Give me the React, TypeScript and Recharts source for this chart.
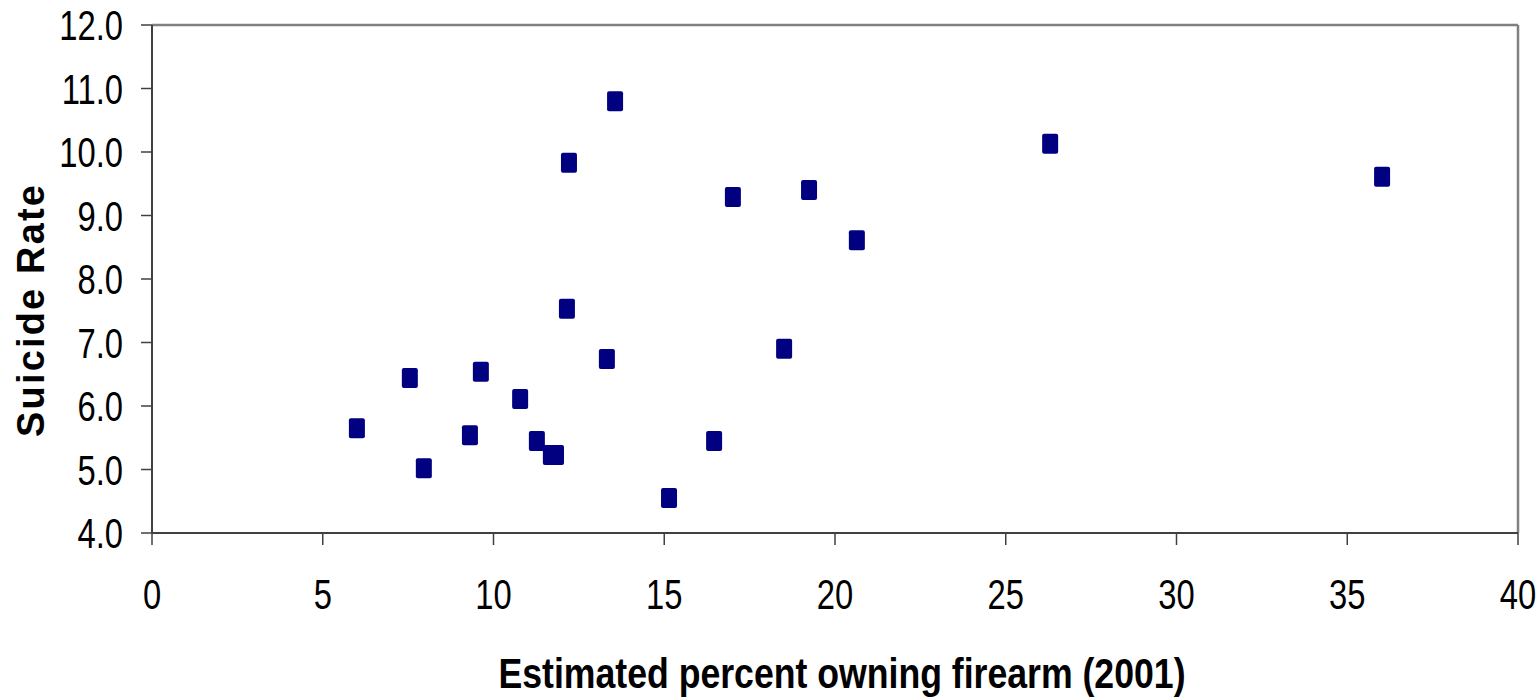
import {
  ScatterChart,
  Scatter,
  XAxis,
  YAxis,
  ReferenceLine,
  Label,
} from "recharts";

// percent owning firearm (2001) vs suicide rate
const ownership = [
  6.0, 7.55, 7.96, 9.31, 9.63, 10.78, 11.27, 11.68, 11.83, 12.15, 12.21,
  13.32, 13.56, 15.14, 16.46, 17.01, 18.51, 19.24, 20.64, 26.3, 36.02,
];
const suicideRate = [
  5.65, 6.44, 5.02, 5.54, 6.54, 6.11, 5.45, 5.23, 5.23, 7.53, 9.83, 6.74,
  10.8, 4.55, 5.45, 9.29, 6.9, 9.4, 8.61, 10.13, 9.61,
];
const xTicks = [0, 5, 10, 15, 20, 25, 30, 35, 40];
const yTicks = [4, 5, 6, 7, 8, 9, 10, 11, 12];

const points = ownership.map((x, i) => ({ x, y: suicideRate[i] }));

const FONT = "'Liberation Sans', Arial, sans-serif";

const XTick = (props: any) => {
  const { x, y, payload } = props;
  return (
    <text
      transform={`translate(${x},${y + 62}) scale(0.78,1)`}
      textAnchor="middle"
      fontFamily={FONT}
      fontSize={42}
      fill="#000"
    >
      {payload.value}
    </text>
  );
};

const YTick = (props: any) => {
  const { x, y, payload } = props;
  return (
    <text
      transform={`translate(${x - 16},${y + 15}) scale(0.78,1)`}
      textAnchor="end"
      fontFamily={FONT}
      fontSize={42}
      fill="#000"
    >
      {Number(payload.value).toFixed(1)}
    </text>
  );
};

const Marker = (props: any) => {
  const { cx, cy } = props;
  return (
    <rect x={cx - 8} y={cy - 10} width={16} height={20} rx={2} fill="#000080" />
  );
};

export default function App() {
  return (
    <div style={{ position: "absolute", left: 0, top: 0 }}>
      <ScatterChart
        width={1539}
        height={698}
        margin={{ top: 25, right: 21, left: 0, bottom: 0 }}
      >
        <XAxis
          type="number"
          dataKey="x"
          domain={[0, 40]}
          ticks={xTicks}
          interval={0}
          tickSize={12}
          height={165}
          axisLine={{ stroke: "#404040", strokeWidth: 2 }}
          tickLine={{ stroke: "#404040", strokeWidth: 1.5 }}
          tick={<XTick />}
        >
          <Label
            content={() => (
              <text
                x={842}
                y={688}
                textAnchor="middle"
                fontFamily={FONT}
                fontWeight="bold"
                fontSize={42}
                textLength={687}
                lengthAdjust="spacingAndGlyphs"
                fill="#000"
              >
                Estimated percent owning firearm (2001)
              </text>
            )}
          />
        </XAxis>
        <YAxis
          type="number"
          dataKey="y"
          domain={[4, 12]}
          ticks={yTicks}
          interval={0}
          tickSize={11}
          width={152}
          axisLine={{ stroke: "#404040", strokeWidth: 2 }}
          tickLine={{ stroke: "#404040", strokeWidth: 1.5 }}
          tick={<YTick />}
        >
          <Label
            content={() => (
              <text
                transform="translate(44,311) rotate(-90)"
                textAnchor="middle"
                fontFamily={FONT}
                fontWeight="bold"
                fontSize={38}
                textLength={252}
                lengthAdjust="spacing"
                fill="#000"
              >
                Suicide Rate
              </text>
            )}
          />
        </YAxis>
        <ReferenceLine y={12} stroke="#808080" strokeWidth={2.5} />
        <ReferenceLine x={40} stroke="#808080" strokeWidth={2.5} />
        <Scatter
          data={points}
          shape={<Marker />}
          isAnimationActive={false}
        />
      </ScatterChart>
    </div>
  );
}
